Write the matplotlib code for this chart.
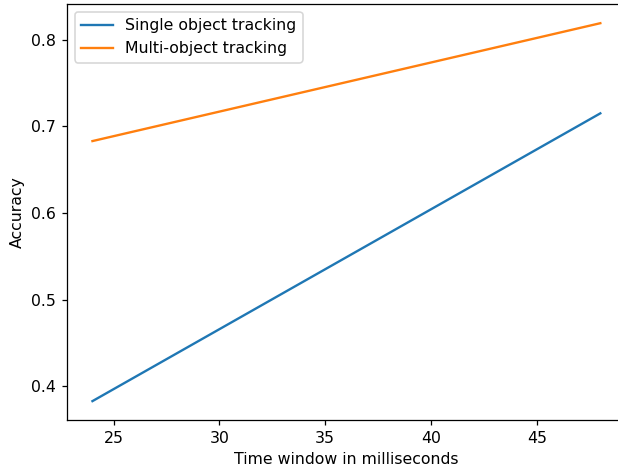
import matplotlib
matplotlib.use("Agg")
import matplotlib.pyplot as plt

# Data
time_window = [24, 48]
single_acc = [0.383, 0.715]
multi_acc = [0.683, 0.819]


def make_plot():
    dpi = 113
    fig = plt.figure(figsize=(618 / dpi, 467 / dpi), dpi=dpi)
    # the reference is cropped on the right, so the axes run past the edge
    ax = fig.add_axes([0.1085, 0.1006, 0.904, 0.8902])

    ax.plot(time_window, single_acc, label="Single object tracking")
    ax.plot(time_window, multi_acc, label="Multi-object tracking")

    ax.set_xlabel("Time window in milliseconds")
    ax.set_ylabel("Accuracy")
    ax.legend(loc="upper left")

    fig.savefig("out.png", dpi=dpi)


if __name__ == "__main__":
    make_plot()
